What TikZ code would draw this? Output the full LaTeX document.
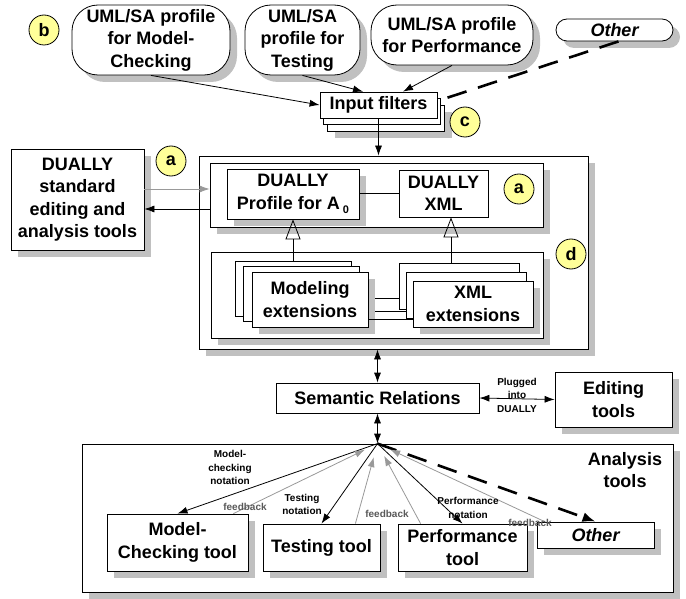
\documentclass[tikz,border=0pt]{standalone}
\usepackage{fontspec}
\setmainfont{Liberation Sans}
\usepackage{tikz}
\usetikzlibrary{positioning,arrows.meta,shadows}
\definecolor{tagyellow}{RGB}{255,255,153}
\definecolor{shade}{RGB}{192,192,192}
\tikzstyle{box} = [rectangle, draw=black, line width=0.8pt, fill=white, align=center,
                   inner sep=2pt, font=\bfseries\fontsize{18}{22.5}\selectfont]
\tikzstyle{shbox} = [box, drop shadow={shadow xshift=7pt, shadow yshift=-7pt, fill=shade, opacity=1}]
\tikzstyle{profile} = [shbox, rounded corners=26pt]
\tikzstyle{title} = [align=center, inner sep=0pt, font=\bfseries\fontsize{18}{22.5}\selectfont]
\tikzstyle{tag} = [circle, draw=black, line width=0.8pt, fill=tagyellow, minimum size=30pt,
                   inner sep=0pt, font=\bfseries\fontsize{18}{22}\selectfont]
\tikzstyle{note} = [align=center, inner sep=0pt, font=\bfseries\fontsize{10}{13.5}\selectfont]
\tikzstyle{arrow} = [line width=0.8pt, ->, >={Latex[length=10pt,width=7pt]}]
\tikzstyle{dblarrow} = [arrow, <->]
\tikzstyle{grayline} = [line width=0.8pt, draw=black!40, ->, >={Latex[length=10pt,width=7pt]}]
\tikzstyle{fback} = [grayline, shorten >=14pt]
\tikzstyle{dashline} = [line width=2.6pt, dash pattern=on 20pt off 12pt]
\tikzstyle{dasharrow} = [dashline, -{Latex[length=13pt,width=10pt]}]
\tikzstyle{inherit} = [line width=0.8pt, -{Triangle[open,length=20pt,width=15pt]}]

\begin{document}
\begin{tikzpicture}[x=1pt, y=-1pt]
		\useasboundingbox (0,0) rectangle (686,599);

		% UML/SA profiles
		\node[profile, minimum width=158pt, minimum height=70pt] (pmc) at (151,40) {UML/SA profile\\for Model-\\Checking};
		\node[profile, minimum width=115pt, minimum height=70pt] (ptest) at (302.5,40) {UML/SA\\profile for\\Testing};
		\node[profile, minimum width=162pt, minimum height=60pt] (pperf) at (452,35) {UML/SA profile\\for Performance};
		\node[profile, rounded corners=11pt, minimum width=117pt, minimum height=22pt, inner sep=0pt] (pother) at (614.5,30) {\itshape Other};
		\node[tag] (tagb) at (44,30) {b};

		% Input filters
		\node[shbox, minimum width=117pt, minimum height=26pt] (inf3) at (386,118) {};
		\node[box, minimum width=117pt, minimum height=26pt] (inf2) at (382,111.5) {};
		\node[box, minimum width=117pt, minimum height=26pt] (inf) at (378.5,105) {Input filters};
		\node[tag] (tagc) at (465,122) {c};

		% DUALLY core
		\node[shbox, minimum width=389pt, minimum height=193pt] (dually) at (393.5,252.5) {};
		\node[shbox, minimum width=333pt, minimum height=64pt] (core) at (376.5,195) {};
		\node[shbox, minimum width=132pt, minimum height=50pt] (prof) at (293,194)
			{DUALLY\\Profile for A\,\raisebox{-0.45ex}{\fontsize{11}{11}\selectfont 0}};
		\node[box, minimum width=89pt, minimum height=47pt] (xml) at (443.5,193.5) {DUALLY\\XML};
		\node[tag] (taga) at (519,189) {a};
		\draw[line width=0.8pt] (prof.east |- xml.west) -- (xml.west);

		% Extensions
		\node[shbox, minimum width=332pt, minimum height=86pt] (ext) at (377,295) {};
		\node[tag] (tagd) at (571,254) {d};
		\node[box, minimum width=116pt, minimum height=55pt] (mod3) at (293,288.5) {};
		\node[box, minimum width=120pt, minimum height=46pt] (xext3) at (459,286) {};
		\coordinate (l1) at ([yshift=-9.5pt]mod3.east);
		\draw[line width=0.8pt] (l1) -- (l1 -| xext3.west);
		\node[box, minimum width=116pt, minimum height=55pt] (mod2) at (301,293.5) {};
		\node[box, minimum width=120pt, minimum height=46pt] (xext2) at (466,295) {};
		\coordinate (l2) at ([yshift=-17.5pt]mod2.east);
		\draw[line width=0.8pt] (l2) -- (l2 -| xext2.west);
		\node[shbox, minimum width=116pt, minimum height=55pt] (mod) at (310,299.5) {Modeling\\extensions};
		\node[shbox, minimum width=120pt, minimum height=46pt] (xext) at (473,304) {XML\\extensions};
		\coordinate (l3) at ([yshift=-19.5pt]mod.east);
		\draw[line width=0.8pt] (l3) -- (l3 -| xext.west);
		\draw[inherit] (mod3.north) -- (prof.south);
		\coordinate (x1) at ([xshift=-8pt]xext3.north);
		\draw[inherit] (x1) -- (x1 |- xml.south);

		% Standard tools
		\node[shbox, minimum width=133pt, minimum height=101pt] (std) at (77.5,199.5) {DUALLY\\standard\\editing and\\analysis tools};
		\node[tag] (taga2) at (171,161) {a};
		\coordinate (g1) at ([yshift=10.5pt]std.east);
		\draw[grayline] (g1) -- (g1 -| core.west);
		\coordinate (b1) at ([yshift=-9.5pt]std.east);
		\draw[arrow] (b1 -| core.west) -- (b1);

		% Arrows into the core
		\draw[arrow] (pmc.south) -- (inf.west);
		\draw[arrow] (ptest.south) -- ([xshift=-15.5pt]inf.north);
		\draw[arrow] (pperf.south) -- ([xshift=24.5pt]inf.north);
		\draw[dashline] ([xshift=4pt]pother.south) -- ([yshift=4pt]inf.east);
		\draw[arrow] (inf.south) -- (inf.south |- dually.north);

		% Semantic relations
		\node[box, minimum width=203pt, minimum height=30pt] (sem) at (377.5,398) {Semantic Relations};
		\node[shbox, minimum width=117pt, minimum height=55pt] (edit) at (613.5,399.5) {Editing\\tools};
		\draw[dblarrow] (sem.north |- dually.south) -- (sem.north);
		\draw[dblarrow] (sem.east) -- (edit.west) node[note, midway, yshift=3.5pt] (plug) {Plugged\\into\\DUALLY};

		% Analysis tools
		\node[shbox, minimum width=591pt, minimum height=148pt] (ana) at (377.5,518) {};
		\node[title] (analbl) at (625,470) {Analysis\\tools};
		\coordinate (hub) at (sem.south |- ana.north);
		\draw[dblarrow] (sem.south) -- (hub);

		\node[shbox, minimum width=141pt, minimum height=57pt] (mct) at (177.5,542.5) {Model-\\Checking tool};
		\node[shbox, minimum width=117pt, minimum height=47pt] (tt) at (321.5,547.5) {Testing tool};
		\node[shbox, minimum width=129pt, minimum height=47pt] (pt) at (462.5,547.5) {Performance\\tool};
		\node[shbox, minimum width=117pt, minimum height=26pt] (ot) at (595.5,535) {\itshape Other};

		\draw[arrow] (hub) -- (mct.north);
		\draw[fback] ([xshift=-15pt]mct.north east) -- (hub);
		\draw[arrow] (hub) -- (tt.north);
		\draw[fback] ([xshift=-25pt]tt.north east) -- (hub);
		\draw[arrow] (hub) -- (pt.north);
		\draw[fback] ([xshift=23pt]pt.north west) -- (hub);
		\draw[dasharrow] (hub) -- (ot.north);
		\draw[fback] ([xshift=8pt]ot.north west) -- (hub);

		% Labels
		\node[note] (nmc) at (230,467.5) {Model-\\checking\\notation};
		\node[note, text=black!65] (fb1) at (245,507) {feedback};
		\node[note] (ntt) at (302,504.5) {Testing\\notation};
		\node[note, text=black!65] (fb2) at (387,514) {feedback};
		\node[note] (npt) at (468,508) {Performance\\notation};
		\node[note, text=black!65] (fb3) at (530,523) {feedback};
	\end{tikzpicture}
\end{document}
